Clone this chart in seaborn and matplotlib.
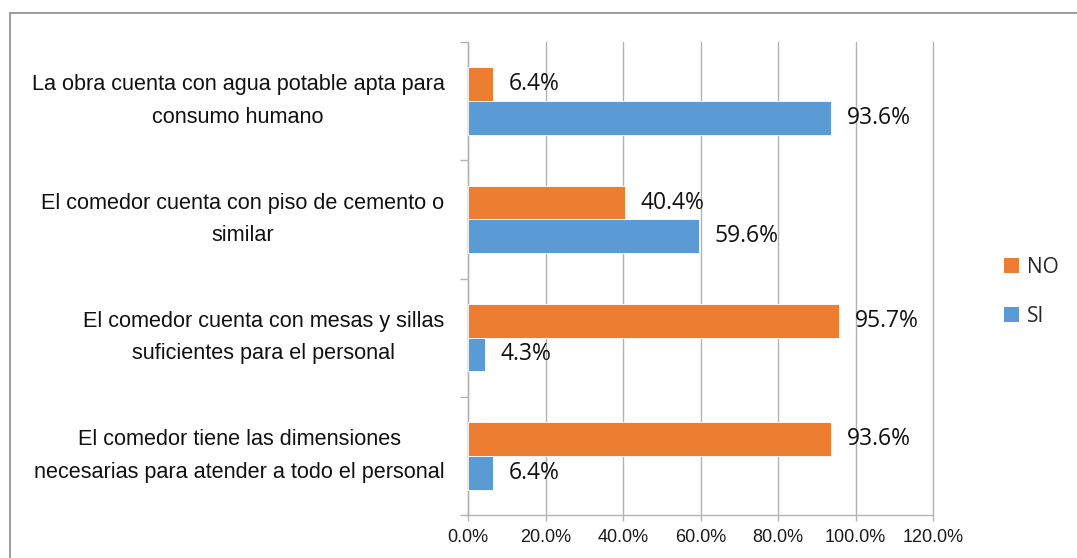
import matplotlib
matplotlib.use("Agg")
import matplotlib.pyplot as plt
import seaborn as sns
import pandas as pd
from matplotlib.patches import Rectangle, Patch
from matplotlib.ticker import MultipleLocator, FuncFormatter

categories = [
    "La obra cuenta con agua potable apta para\nconsumo humano",
    "El comedor cuenta con piso de cemento o\nsimilar",
    "El comedor cuenta con mesas y sillas\nsuficientes para el personal",
    "El comedor tiene las dimensiones\nnecesarias para atender a todo el personal",
]
series = ["NO", "SI"]
no_values = [6.4, 40.4, 95.7, 93.6]
si_values = [93.6, 59.6, 4.3, 6.4]
colors = {"NO": "#ED7D31", "SI": "#5B9BD5"}

df = pd.DataFrame({
    "pregunta": categories * 2,
    "respuesta": ["NO"] * len(categories) + ["SI"] * len(categories),
    "valor": no_values + si_values,
})

sns.set_style("white")
plt.rcParams["font.family"] = ["Liberation Sans", "DejaVu Sans"]

fig = plt.figure(figsize=(10.77, 5.58), dpi=100)
ax = fig.add_axes([468 / 1077, 1 - 515 / 558, (933 - 468) / 1077, (515 - 42) / 558])

sns.barplot(data=df, y="pregunta", x="valor", hue="respuesta", order=categories,
            hue_order=series, palette=colors, saturation=1, orient="h", width=0.57, gap=0,
            edgecolor="white", linewidth=0.6, ax=ax, legend=False, zorder=3)

ax.set_xlim(0, 120)
ax.set_ylim(len(categories) - 0.5, -0.5)
ax.xaxis.set_major_locator(MultipleLocator(20))
ax.xaxis.set_major_formatter(FuncFormatter(lambda v, p: f"{v:.1f}%"))
ax.grid(axis="x", color="#b3b3b3", linewidth=1.0, zorder=0)
for gl in ax.get_xgridlines():
    gl.set_clip_on(False)
ax.set_axisbelow(True)
ax.set_xlabel("")
ax.set_ylabel("")

for side in ["top", "right"]:
    ax.spines[side].set_visible(False)
for side in ["left", "bottom"]:
    ax.spines[side].set_color("#b3b3b3")
    ax.spines[side].set_linewidth(1.0)

ax.tick_params(axis="x", length=4, width=1.0, color="#b3b3b3", labelsize=13,
               labelcolor="#1a1a1a", pad=6, direction="out", bottom=True)
ax.set_yticks(range(len(categories)))
ax.set_yticklabels(categories)
ax.tick_params(axis="y", which="major", length=0, pad=17, labelsize=15.6, labelcolor="#111111")
ax.set_yticks([i - 0.5 for i in range(len(categories) + 1)], minor=True)
ax.tick_params(axis="y", which="minor", length=6, width=1.0, color="#b3b3b3", left=True)
for t in ax.get_yticklabels():
    t.set_multialignment("center")
    t.set_verticalalignment("center")
    t.set_linespacing(1.72)

for cont, vals in zip(ax.containers, [no_values, si_values]):
    ax.bar_label(cont, labels=[f"{v:.1f}%" for v in vals], padding=11.5,
                 fontsize=16.5, family=["Open Sans", "DejaVu Sans"], color="#111111")

handles = [Patch(facecolor=colors[s], edgecolor="none") for s in series]
fig.legend(handles, series, loc="center left", bbox_to_anchor=(1004 / 1077, 1 - 292 / 558),
           frameon=False, prop={"family": ["Open Sans", "DejaVu Sans"], "size": 15},
           handlelength=0.72, handleheight=0.72, handletextpad=0.4, labelspacing=1.35,
           borderpad=0, borderaxespad=0)

fig.patches.append(Rectangle((10 / 1077, -0.05), 1.2, 1 - 13 / 558 + 0.05,
                             transform=fig.transFigure, fill=False,
                             edgecolor="#8c8c8c", linewidth=1.2, zorder=-1))

fig.savefig("out.png", dpi=100, facecolor="white")
